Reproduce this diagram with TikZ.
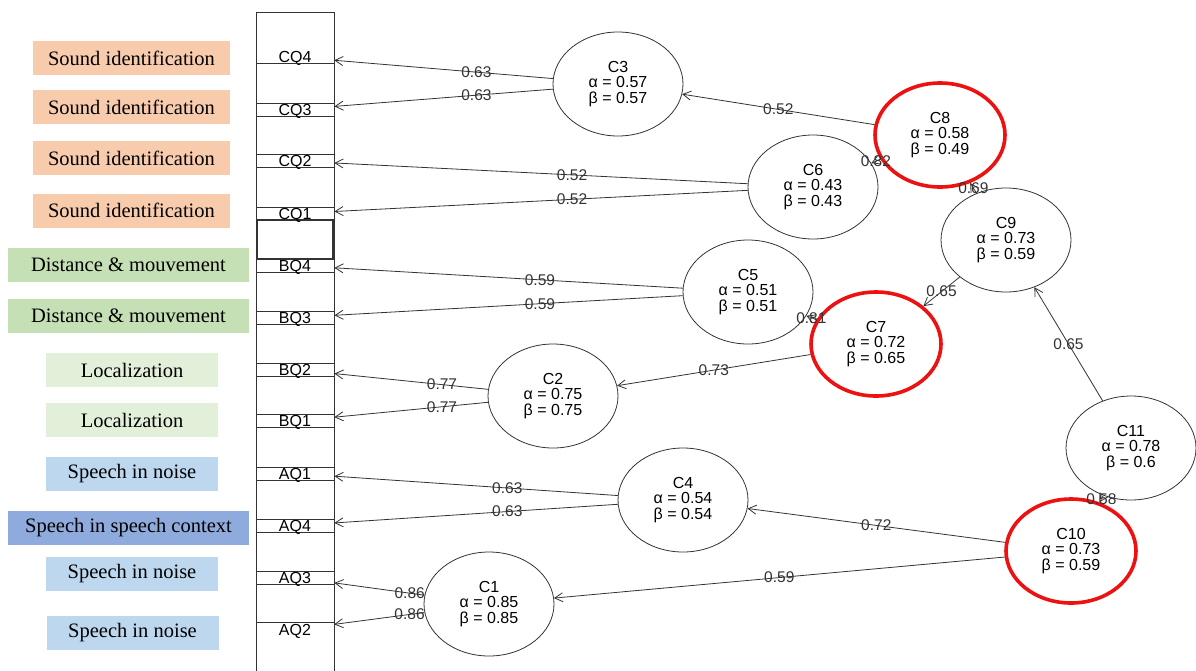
\documentclass[tikz,border=0pt]{standalone}
\usepackage{fontspec}
\setmainfont{Liberation Serif}
\setsansfont{Liberation Sans}
\usetikzlibrary{positioning,arrows.meta,shapes.geometric}
\definecolor{sndfill}{HTML}{F8CBAD}
\definecolor{distfill}{HTML}{C5E0B4}
\definecolor{locfill}{HTML}{E2F0D9}
\definecolor{noisefill}{HTML}{BDD7EE}
\definecolor{ctxfill}{HTML}{8FAADC}
\definecolor{pathink}{HTML}{333333}
\definecolor{hlred}{HTML}{EE1111}

\begin{document}
\begin{tikzpicture}[
  x=1pt, y=-1pt,
  cat/.style={font=\fontsize{20.5}{22}\selectfont, minimum height=34pt, inner sep=0pt, text=black},
  sndbox/.style={cat, fill=sndfill, minimum width=197pt},
  distbox/.style={cat, fill=distfill, minimum width=241pt},
  locbox/.style={cat, fill=locfill, minimum width=172pt},
  noisebox/.style={cat, fill=noisefill, minimum width=172pt},
  ctxbox/.style={cat, fill=ctxfill, minimum width=241pt},
  itemtext/.style={minimum width=78pt, minimum height=13pt, inner sep=0pt, text height=11.5pt, text depth=0pt, font=\sffamily\fontsize{16}{16}\selectfont},
  item/.style={itemtext, draw=pathink, line width=0.8pt},
  boxline/.style={draw=pathink, line width=0.8pt},
  latent/.style={ellipse, draw=pathink, line width=0.8pt, minimum width=130pt, minimum height=104pt, inner sep=0pt, align=center, font=\sffamily\fontsize{16}{15.5}\selectfont},
  hl/.style={draw=hlred, line width=3.6pt},
  edge/.style={-{Straight Barb[length=8pt,width=9pt]}, line width=0.8pt, draw=pathink},
  lbl/.style={font=\sffamily\fontsize{15.5}{16}\selectfont, inner sep=0pt, text=pathink}
]
  \useasboundingbox (0,0) rectangle (1196,670);

  \node[sndbox]   (s1) at (131.5,58)  {Sound identification};
  \node[sndbox]   (s2) at (131.5,107) {Sound identification};
  \node[sndbox]   (s3) at (131.5,158) {Sound identification};
  \node[sndbox]   (s4) at (131.5,210.5) {Sound identification};
  \node[distbox]  (d1) at (128.5,265) {Distance \& mouvement};
  \node[distbox]  (d2) at (128.5,316) {Distance \& mouvement};
  \node[locbox]   (l1) at (132,370)   {Localization};
  \node[locbox]   (l2) at (132,420)   {Localization};
  \node[noisebox] (n1) at (132,474)   {Speech in noise};
  \node[ctxbox]   (x1) at (128.5,528) {Speech in speech context};
  \node[noisebox] (n2) at (132,573.5) {Speech in noise};
  \node[noisebox] (n3) at (132.5,633) {Speech in noise};

  \draw[boxline] (256,672) -- (256,12) -- (334,12) -- (334,672);
  \draw[pathink, line width=1.6pt] (257,220) rectangle (333,259);

  \node[itemtext] (CQ4) at (295,57)    {CQ4};
  \node[item]     (CQ3) at (295,109.5) {CQ3};
  \node[item]     (CQ2) at (295,161)   {CQ2};
  \node[item]     (CQ1) at (295,213.5) {CQ1};
  \node[item]     (BQ4) at (295,265.5) {BQ4};
  \node[item]     (BQ3) at (295,317.5) {BQ3};
  \node[item]     (BQ2) at (295,369.5) {BQ2};
  \node[item]     (BQ1) at (295,421)   {BQ1};
  \node[item]     (AQ1) at (295,473.5) {AQ1};
  \node[item]     (AQ4) at (295,525.5) {AQ4};
  \node[item]     (AQ3) at (295,577.5) {AQ3};
  \node[itemtext] (AQ2) at (295,629.5) {AQ2};
  \draw[boxline] (CQ4.south west) -- (CQ4.south east);
  \draw[boxline] (AQ2.north west) -- (AQ2.north east);

  \node[latent]     (C1)  at (489,604)  {C1\\α = 0.85\\β = 0.85};
  \node[latent]     (C2)  at (553,396)  {C2\\α = 0.75\\β = 0.75};
  \node[latent]     (C3)  at (618,84)   {C3\\α = 0.57\\β = 0.57};
  \node[latent]     (C4)  at (683,500)  {C4\\α = 0.54\\β = 0.54};
  \node[latent]     (C5)  at (748,292)  {C5\\α = 0.51\\β = 0.51};
  \node[latent]     (C6)  at (813,187)  {C6\\α = 0.43\\β = 0.43};
  \node[latent, hl] (C7)  at (876,344)  {C7\\α = 0.72\\β = 0.65};
  \node[latent, hl] (C8)  at (940,135)  {C8\\α = 0.58\\β = 0.49};
  \node[latent]     (C9)  at (1006,240) {C9\\α = 0.73\\β = 0.59};
  \node[latent, hl] (C10) at (1071,551) {C10\\α = 0.73\\β = 0.59};
  \node[latent]     (C11) at (1131,448) {C11\\α = 0.78\\β = 0.6};

  \draw[edge] (C3) -- node[lbl, pos=0.35]{0.63} (CQ4);
  \draw[edge] (C3) -- node[lbl, pos=0.35]{0.63} (CQ3);
  \draw[edge] (C6) -- node[lbl, pos=0.425]{0.52} (CQ2);
  \draw[edge] (C6) -- node[lbl, pos=0.425]{0.52} (CQ1);
  \draw[edge] (C5) -- node[lbl, pos=0.41]{0.59} (BQ4);
  \draw[edge] (C5) -- node[lbl, pos=0.41]{0.59} (BQ3);
  \draw[edge] (C2) -- node[lbl, pos=0.3]{0.77} (BQ2);
  \draw[edge] (C2) -- node[lbl, pos=0.3]{0.77} (BQ1);
  \draw[edge] (C4) -- node[lbl, pos=0.39]{0.63} (AQ1);
  \draw[edge] (C4) -- node[lbl, pos=0.39]{0.63} (AQ4);
  \draw[edge] (C1) -- node[lbl, pos=0.165]{0.86} (AQ3);
  \draw[edge] (C1) -- node[lbl, pos=0.165]{0.86} (AQ2);

  \draw[edge] (C8) -- node[lbl]{0.52} (C3);
  \draw[edge] (C8) -- node[lbl]{0.82} (C6);
  \draw[edge] (C9) -- node[lbl]{0.69} (C8);
  \draw[edge] (C9) -- node[lbl]{0.65} (C7);
  \draw[edge] (C7) -- node[lbl]{0.81} (C5);
  \draw[edge] (C7) -- node[lbl]{0.73} (C2);
  \draw[edge] (C11) -- node[lbl]{0.65} (C9);
  \draw[edge] (C11) -- node[lbl]{0.58} (C10);
  \draw[edge] (C10) -- node[lbl]{0.72} (C4);
  \draw[edge] (C10) -- node[lbl]{0.59} (C1);
\end{tikzpicture}
\end{document}
